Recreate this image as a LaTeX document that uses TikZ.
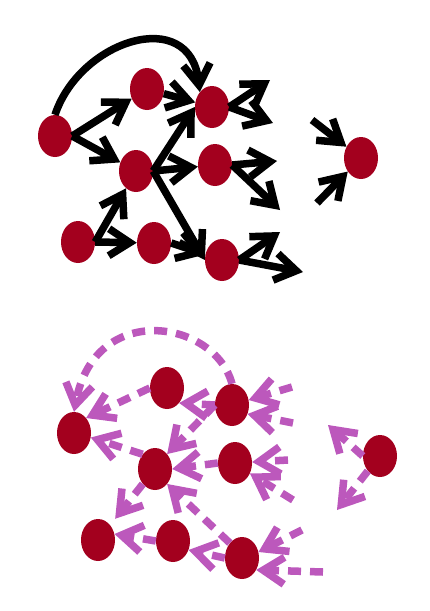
\documentclass[tikz,border=0pt]{standalone}
\usetikzlibrary{arrows.meta, shapes.geometric}
\definecolor{vtxred}{RGB}{163,0,30}
\definecolor{revpink}{RGB}{188,88,188}
\begin{document}
\begin{tikzpicture}[x=1pt,y=-1pt,
    vtx/.style={ellipse,fill=vtxred,minimum width=34pt,minimum height=42pt,inner sep=0pt},
    fwd/.style={-{Straight Barb[length=21pt,width=27pt]},line width=7.5pt},
    rev/.style={-{Straight Barb[length=21pt,width=27pt]},line width=7.5pt,color=revpink,dash pattern=on 13pt off 9pt}]
    \useasboundingbox (0,0) rectangle (429,611);
    % original graph
    \node[vtx] (A) at (55,136) {};
    \node[vtx] (B) at (147,89)  {};
    \node[vtx] (C) at (136,171) {};
    \node[vtx] (D) at (212,107) {};
    \node[vtx] (E) at (215,165) {};
    \node[vtx] (F) at (78,242)  {};
    \node[vtx] (G) at (154,243) {};
    \node[vtx] (H) at (222,260) {};
    \node[vtx] (I) at (361,158) {};
    \coordinate (D1) at (270,80);  \coordinate (D2) at (273,123);
    \coordinate (E1) at (277,161); \coordinate (E2) at (280,210);
    \coordinate (H1) at (280,232); \coordinate (H2) at (303,272);
    \coordinate (I1) at (312,120); \coordinate (I2) at (317,203);
    \draw[fwd](A.east)--(B); \draw[fwd](A.east)--(C);
    \draw[fwd](A.north) .. controls (80,40) and (190,5) .. (D.north west);
    \draw[fwd](B)--(D); \draw[fwd](C.east)--(D.west); \draw[fwd](C.east)--(E);
    \draw[fwd](C.east)--(H.west); \draw[fwd](F.east)--(C); \draw[fwd](F.east)--(G);
    \draw[fwd](G.east)--(H);
    \draw[fwd](D.east)--(D1); \draw[fwd](D.east)--(D2);
    \draw[fwd](E.east)--(E1); \draw[fwd](E.east)--(E2);
    \draw[fwd](H.east)--(H1); \draw[fwd](H.east)--(H2);
    \draw[fwd](I1)--(I); \draw[fwd](I2)--(I);
    % reversed graph
    \node[vtx] (rA) at (74,433)  {};
    \node[vtx] (rB) at (167,388) {};
    \node[vtx] (rC) at (155,469) {};
    \node[vtx] (rD) at (232,405) {};
    \node[vtx] (rE) at (235,463) {};
    \node[vtx] (rF) at (98,540)  {};
    \node[vtx] (rG) at (173,541) {};
    \node[vtx] (rH) at (242,558) {};
    \node[vtx] (rI) at (380,456) {};
    \coordinate (rD1) at (292,387); \coordinate (rD2) at (293,423);
    \coordinate (rE1) at (288,460); \coordinate (rE2) at (293,500);
    \coordinate (rH1) at (302,530); \coordinate (rH2) at (323,572);
    \coordinate (rI1) at (328,425); \coordinate (rI2) at (337,510);
    \draw[rev](rB.west)--(rA.north east); \draw[rev](rC.130)--(rA.345);
    \draw[rev](rD.north) .. controls (215,320) and (95,300) .. (rA.north);
    \draw[rev](rD.west)--(rB.south east); \draw[rev](rD.west)--(rC.north east);
    \draw[rev](rE.west)--(rC.east); \draw[rev](rH.north west)--(rC.south east);
    \draw[rev,shorten >=8pt](rC.south west)--(rF.north east);
    \draw[rev](rG.west)--(rF.20); \draw[rev](rH.west)--(rG.-30);
    \draw[rev](rD1)--(rD); \draw[rev](rD2)--(rD.-30);
    \draw[rev](rE1)--(rE); \draw[rev](rE2)--(rE.-35);
    \draw[rev](rH1)--(rH.20); \draw[rev](rH2)--(rH.-40);
    \draw[rev](rI.west)--(rI1); \draw[rev](rI.south west)--(rI2);
\end{tikzpicture}
\end{document}
